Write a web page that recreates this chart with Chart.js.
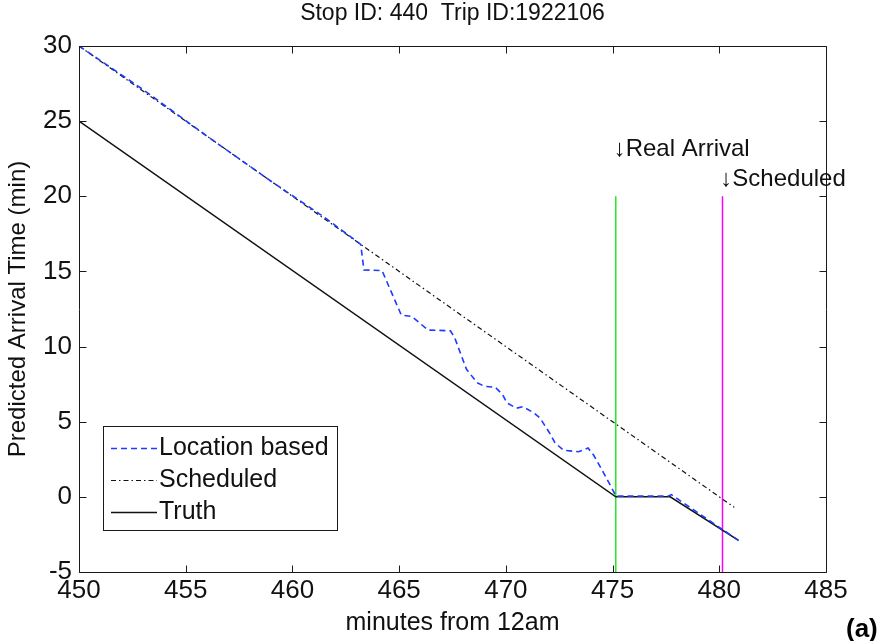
<!DOCTYPE html>
<html><head><meta charset="utf-8">
<script src="https://cdn.jsdelivr.net/npm/chart.js@4/dist/chart.umd.min.js"></script>
<style>html,body{margin:0;padding:0;background:#fff}#wrap{width:882px;height:641px}</style>
</head><body><div id="wrap"><canvas id="c" width="882" height="641"></canvas></div>
<script>
// ---- data ----
const titleText = 'Stop ID: 440  Trip ID:1922106';
const xTitle = 'minutes from 12am';
const yTitle = 'Predicted Arrival Time (min)';
const panelLabel = '(a)';
const xTicks = [450, 455, 460, 465, 470, 475, 480, 485];
const yTicks = [-5, 0, 5, 10, 15, 20, 25, 30];
const seriesNames = ['Location based', 'Scheduled', 'Truth'];

const locX = [450, 453, 456, 459, 461.5, 463.2, 463.35, 464.2, 465.1, 465.6, 466.35, 467.4, 467.6, 468.15, 468.65, 469.0, 469.5, 469.85, 470.05, 470.5, 470.8, 471.3, 471.6, 472.05, 472.3, 472.7, 473.4, 473.85, 474.1, 474.5, 475.05, 475.15, 477.6, 477.75, 480.9];
const locY = [30, 27.1, 24.0, 21.0, 18.6, 16.8, 15.1, 15.05, 12.1, 12.0, 11.1, 11.05, 10.6, 8.5, 7.6, 7.35, 7.3, 6.8, 6.25, 5.9, 6.0, 5.6, 5.25, 4.25, 3.6, 3.1, 3.0, 3.25, 2.8, 1.8, 0.35, 0.05, 0.05, 0.15, -2.9];

const schedX = [450, 480.7];
const schedY = [30, -0.7];

const truthX = [450, 475.15, 477.7, 480.9];
const truthY = [25, 0, 0, -2.9];

const realArrivalX = 475.15;
const schedArrivalX = 480.15;
const markerYRange = [-5, 20];
const realArrivalLabel = '\u2193Real Arrival';
const schedArrivalLabel = '\u2193Scheduled';
const realLabelPos = [475.05, 23.1];
const schedLabelPos = [480.05, 21.1];

// ---- build ----
const pts = (xs, ys) => xs.map((v, i) => ({x: v, y: ys[i]}));
const FONT = "'Liberation Sans', Arial, sans-serif";

const datasets = [
  {label: seriesNames[0], data: pts(locX, locY), borderColor: 'rgb(30,60,255)', borderWidth: 1.6, borderDash: [6, 4]},
  {label: seriesNames[1], data: pts(schedX, schedY), borderColor: '#111', borderWidth: 1.2, borderDash: [5, 3, 1.5, 3]},
  {label: seriesNames[2], data: pts(truthX, truthY), borderColor: '#111', borderWidth: 1.5},
  {label: 'real', data: pts([realArrivalX, realArrivalX], markerYRange), borderColor: 'rgb(40,230,40)', borderWidth: 1.5},
  {label: 'sched', data: pts([schedArrivalX, schedArrivalX], markerYRange), borderColor: 'rgb(255,0,255)', borderWidth: 1.5}
].map(d => Object.assign({showLine: true, pointRadius: 0, pointHoverRadius: 0, fill: false, tension: 0}, d));

const decor = {
  id: 'decor',
  afterDatasetsDraw(chart) {
    const {ctx, chartArea: a, scales: {x, y}} = chart;
    ctx.save();
    ctx.strokeStyle = '#1a1a1a';
    ctx.lineWidth = 1;
    ctx.setLineDash([]);
    const L = Math.round(a.left) + 0.5, R = Math.round(a.right) + 0.5, T = Math.round(a.top) + 0.5, B = Math.round(a.bottom) + 0.5;
    ctx.beginPath();
    ctx.rect(L, T, R - L, B - T);
    const tl = 7;
    x.ticks.forEach(t => {
      const px = Math.round(x.getPixelForValue(t.value)) + 0.5;
      ctx.moveTo(px, B); ctx.lineTo(px, B - tl);
      ctx.moveTo(px, T); ctx.lineTo(px, T + tl);
    });
    y.ticks.forEach(t => {
      const py = Math.round(y.getPixelForValue(t.value)) + 0.5;
      ctx.moveTo(L, py); ctx.lineTo(L + tl, py);
      ctx.moveTo(R, py); ctx.lineTo(R - tl, py);
    });
    ctx.stroke();

    // annotations
    ctx.fillStyle = '#111';
    ctx.font = '24px ' + FONT;
    ctx.textAlign = 'left';
    ctx.textBaseline = 'middle';
    ctx.fillText(realArrivalLabel, x.getPixelForValue(realLabelPos[0]), y.getPixelForValue(realLabelPos[1]));
    ctx.fillText(schedArrivalLabel, x.getPixelForValue(schedLabelPos[0]), y.getPixelForValue(schedLabelPos[1]));

    // legend
    const lx = 103.5, ly = 426.5, lw = 234, lh = 104;
    ctx.fillStyle = '#fff';
    ctx.fillRect(lx, ly, lw, lh);
    ctx.strokeStyle = '#1a1a1a';
    ctx.lineWidth = 1;
    ctx.strokeRect(lx, ly, lw, lh);
    const rows = [448, 480, 512];
    ctx.font = '25px ' + FONT;
    for (let i = 0; i < 3; i++) {
      const ds = chart.data.datasets[i];
      ctx.beginPath();
      ctx.strokeStyle = ds.borderColor;
      ctx.lineWidth = ds.borderWidth;
      ctx.setLineDash(ds.borderDash || []);
      ctx.moveTo(111, rows[i] + 0.5);
      ctx.lineTo(157, rows[i] + 0.5);
      ctx.stroke();
      ctx.setLineDash([]);
      ctx.fillStyle = '#111';
      ctx.fillText(ds.label, 159, rows[i]);
    }

    // panel label
    ctx.font = 'bold 26px ' + FONT;
    ctx.fillStyle = '#000';
    ctx.fillText(panelLabel, 846, 630);
    ctx.restore();
  }
};

new Chart(document.getElementById('c'), {
  type: 'scatter',
  data: {datasets},
  plugins: [decor],
  options: {
    responsive: false,
    animation: false,
    devicePixelRatio: 1,
    layout: {padding: {left: 0, right: 56, top: 0, bottom: 0}},
    plugins: {
      legend: {display: false},
      tooltip: {enabled: false},
      title: {display: true, fullSize: false, text: titleText, color: '#111', font: {family: FONT, size: 23, weight: 'normal'}, padding: {top: 0, bottom: 18.4}}
    },
    scales: {
      x: {
        type: 'linear', min: 450, max: 485,
        afterBuildTicks: s => { s.ticks = xTicks.map(v => ({value: v})); },
        afterFit: s => { s.height = 69; s.paddingLeft = 0; s.paddingRight = 0; },
        grid: {display: false, drawTicks: false},
        border: {display: false},
        ticks: {color: '#111', font: {family: FONT, size: 26}, padding: 3, maxRotation: 0, autoSkip: false},
        title: {display: true, text: xTitle, color: '#111', font: {family: FONT, size: 25}, padding: {top: 0, bottom: 3}}
      },
      y: {
        type: 'linear', min: -5, max: 30,
        afterBuildTicks: s => { s.ticks = yTicks.map(v => ({value: v})); },
        afterFit: s => { s.width = 79; s.paddingTop = 0; s.paddingBottom = 0; },
        grid: {display: false, drawTicks: false},
        border: {display: false},
        ticks: {color: '#111', font: {family: FONT, size: 26}, padding: 7, autoSkip: false},
        title: {display: true, text: yTitle, color: '#111', font: {family: FONT, size: 24}, padding: {top: 4, bottom: 0}}
      }
    }
  }
});
</script></body></html>
